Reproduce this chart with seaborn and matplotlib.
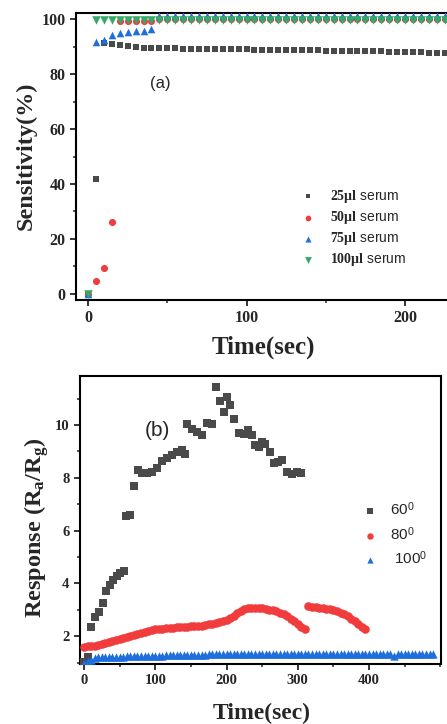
import numpy as np
import pandas as pd
import matplotlib
matplotlib.use("Agg")
import matplotlib.pyplot as plt
import seaborn as sns
from matplotlib.ticker import MultipleLocator, FixedLocator

# ---------------- data: panel (a) ----------------
t_a = [0, 5, 10, 15, 20, 25, 30, 35, 40, 45, 50, 55, 60, 65, 70, 75, 80, 85, 90, 95,
       100, 105, 110, 115, 120, 125, 130, 135, 140, 145, 150, 155, 160, 165, 170, 175,
       180, 185, 190, 195, 200, 205, 210, 215, 220, 225]
sens_25 = [0, 41.7, 91.2, 91.0, 90.6, 90.1, 89.9, 89.5, 89.4, 89.4, 89.3, 89.3, 89.2, 89.2,
           89.2, 89.1, 89.1, 89.1, 89.0, 89.0, 89.0, 88.9, 88.9, 88.8, 88.8, 88.8, 88.7,
           88.7, 88.7, 88.6, 88.5, 88.4, 88.4, 88.4, 88.3, 88.3, 88.3, 88.2, 88.0, 87.9,
           87.9, 87.9, 87.9, 87.8, 87.8, 87.8]
sens_50 = [0, 4.6, 9.4, 26.0, 99.3, 99.3, 99.3, 99.3, 99.3, 100.1, 100.1, 100.1, 100.1,
           100.1, 100.1, 100.1, 100.1, 100.1, 100.1, 100.1, 100.1, 100.1, 100.1, 100.1,
           100.1, 100.1, 100.1, 100.1, 100.1, 100.1, 100.1, 100.1, 100.1, 100.1, 100.1,
           100.1, 100.1, 100.1, 100.1, 100.1, 100.1, 100.1, 100.1, 100.1, 100.1, 100.1]
sens_75 = [0, 91.5, 92.5, 94.3, 94.9, 95.3, 95.5, 95.8, 96.5, 101.0, 101.0, 101.0, 101.0,
           101.0, 101.0, 101.0, 101.0, 101.0, 101.0, 101.0, 101.0, 101.0, 101.0, 101.0,
           101.0, 101.0, 101.0, 101.0, 101.0, 101.0, 101.0, 101.0, 101.0, 101.0, 101.0,
           101.0, 101.0, 101.0, 101.0, 101.0, 101.0, 101.0, 101.0, 101.0, 101.0, 101.0]
sens_100 = [0, 99.8, 99.8, 99.8, 99.8, 99.8, 99.8, 99.8, 99.8, 99.8, 99.8, 99.8, 99.8, 99.8,
            99.8, 99.8, 99.8, 99.8, 99.8, 99.8, 99.8, 99.8, 99.8, 99.8, 99.8, 99.8, 99.8,
            99.8, 99.8, 99.8, 99.8, 99.8, 99.8, 99.8, 99.8, 99.8, 99.8, 99.8, 99.8, 99.8,
            99.8, 99.8, 99.8, 99.8, 99.8, 99.8]
labels_a = [r"$\mathbf{25μl}$ serum", r"$\mathbf{50μl}$ serum",
            r"$\mathbf{75μl}$ serum", r"$\mathbf{100μl}$ serum"]

# ---------------- data: panel (b) ----------------
t_60 = [0, 5, 9.4, 15.5, 21, 26, 31, 36.6, 41, 46, 50.7, 56, 59, 65, 70.6, 76.3, 81, 88, 95,
        102, 109, 116, 123, 130.3, 137, 142, 145, 151.6, 158.6, 165.6, 172, 179, 185, 191,
        196.5, 200, 205.6, 211, 218, 224, 230, 235.6, 240, 245, 250, 254.5, 260.6, 266,
        272, 278, 285, 292, 299, 304]
r_60 = [1.02, 1.2, 2.35, 2.73, 2.92, 3.26, 3.72, 3.93, 4.12, 4.27, 4.4, 4.48, 6.55, 6.59,
        7.69, 8.3, 8.17, 8.2, 8.22, 8.36, 8.65, 8.77, 8.86, 8.99, 9.05, 8.9, 10.06, 9.87,
        9.75, 9.62, 10.09, 10.04, 11.43, 10.92, 10.5, 11.07, 10.76, 10.25, 9.71, 9.65,
        9.8, 9.62, 9.24, 9.18, 9.37, 9.28, 8.99, 8.55, 8.6, 8.67, 8.23, 8.14, 8.23, 8.19]

t_80 = [0, 5, 10, 15, 20, 25, 30, 35, 40, 45, 50, 55, 60, 65, 70, 75, 80, 85, 90, 95, 100,
        105, 110, 115, 120, 125, 130, 135, 140, 145, 150, 155, 160, 165, 170, 175, 180, 185,
        190, 195, 200, 205, 210, 215, 220, 225, 230, 235, 240, 245, 250, 255, 260, 265, 270,
        275, 280, 285, 290, 295, 300, 305, 310,
        315, 320, 325, 330, 335, 340, 345, 350, 355, 360, 365, 370, 375, 380, 385, 390, 395]
r_80 = [1.6, 1.62, 1.63, 1.65, 1.68, 1.71, 1.74, 1.78, 1.82, 1.86, 1.9, 1.94, 1.98, 2.02,
        2.06, 2.1, 2.14, 2.17, 2.2, 2.23, 2.26, 2.28, 2.29, 2.31, 2.32, 2.33, 2.34, 2.36,
        2.37, 2.37, 2.38, 2.38, 2.39, 2.4, 2.42, 2.45, 2.48, 2.51, 2.55, 2.59, 2.63, 2.7,
        2.78, 2.87, 2.95, 3.03, 3.09, 3.09, 3.08, 3.07, 3.06, 3.04, 3.01, 2.98, 2.94, 2.89,
        2.83, 2.76, 2.67, 2.57, 2.46, 2.37, 2.29,
        3.13, 3.11, 3.1, 3.09, 3.07, 3.05, 3.02, 2.99, 2.95, 2.9, 2.84, 2.76, 2.67, 2.57,
        2.47, 2.37, 2.28]

t_100 = [0, 5, 10, 15, 20, 25, 30, 35, 40, 45, 50, 55, 60, 65, 70, 75, 80, 85, 90, 95, 100,
         105, 110, 115, 120, 125, 130, 135, 140, 145, 150, 155, 160, 165, 170, 175, 180, 185,
         190, 195, 200, 205, 210, 215, 220, 225, 230, 235, 240, 245, 250, 255, 260, 265, 270,
         275, 280, 285, 290, 295, 300, 305, 310, 315, 320, 325, 330, 335, 340, 345, 350, 355,
         360, 365, 370, 375, 380, 385, 390, 395, 400, 405, 410, 415, 420, 425, 430, 435, 440,
         445, 450, 455, 460, 465, 470, 475, 480, 485, 490]
r_100 = [1.0, 1.05, 1.12, 1.17, 1.2, 1.2, 1.21, 1.21, 1.22, 1.22, 1.23, 1.23, 1.24, 1.24,
         1.25, 1.25, 1.25, 1.26, 1.26, 1.26, 1.27, 1.27, 1.27, 1.28, 1.28, 1.28, 1.28, 1.29,
         1.29, 1.29, 1.3, 1.3, 1.3, 1.3, 1.3, 1.31, 1.31, 1.31, 1.31, 1.31, 1.32, 1.32, 1.32,
         1.32, 1.32, 1.33, 1.33, 1.33, 1.33, 1.33, 1.33, 1.34, 1.34, 1.34, 1.34, 1.34, 1.34,
         1.34, 1.34, 1.34, 1.34, 1.34, 1.34, 1.34, 1.34, 1.34, 1.34, 1.34, 1.34, 1.34, 1.34,
         1.34, 1.34, 1.34, 1.34, 1.34, 1.34, 1.34, 1.34, 1.34, 1.34, 1.34, 1.34, 1.34, 1.34,
         1.34, 1.33, 1.27, 1.33, 1.34, 1.34, 1.34, 1.34, 1.34, 1.34, 1.34, 1.34, 1.34, 1.33]
labels_b = [r"60$^{\mathsf{0}}$", r"80$^{\mathsf{0}}$", r" 100$^{\mathsf{0}}$"]
xticks_b = [0, 100, 200, 300, 400]

# ---------------- style ----------------
sns.set_style("ticks")
plt.rcParams["font.family"] = ["Liberation Serif", "DejaVu Serif"]
plt.rcParams["mathtext.fontset"] = "custom"
plt.rcParams["mathtext.rm"] = "Liberation Serif"
plt.rcParams["mathtext.bf"] = "Liberation Serif:bold"
plt.rcParams["mathtext.sf"] = "Liberation Sans"
plt.rcParams["mathtext.it"] = "Liberation Serif:italic"

GRAY, RED, BLUE, GREEN = "#4a4a4a", "#f03c3c", "#1e6fdc", "#35aa68"

W, H = 447, 724
fig = plt.figure(figsize=(W / 100, H / 100), dpi=100)

def style_axes(ax, tick_fs):
    for sp in ax.spines.values():
        sp.set_linewidth(1.5)
        sp.set_color("black")
    ax.tick_params(which="major", direction="out", length=4.5, width=1.3,
                   labelsize=tick_fs, pad=3)
    ax.tick_params(which="minor", direction="out", length=2.5, width=1.1)
    for lab in ax.get_xticklabels() + ax.get_yticklabels():
        lab.set_fontweight("bold")

# ---------------- panel (a) ----------------
ax1 = fig.add_axes([76 / W, 1 - 300 / H, (W - 76) / W, 287 / H])
series_a = [(sens_25, GRAY, "s", 20), (sens_50, RED, "o", 26),
            (sens_75, BLUE, "^", 30), (sens_100, GREEN, "v", 38)]
for (vals, col, mk, sz), lab in zip(series_a, labels_a):
    sns.scatterplot(x=t_a, y=vals, color=col, marker=mk, s=sz, linewidth=0,
                    ax=ax1, label=lab, zorder=3)
ax1.set_xlim(-7.6, 226.5)
ax1.set_ylim(-2.2, 102.2)
ax1.xaxis.set_major_locator(MultipleLocator(100))
ax1.xaxis.set_minor_locator(MultipleLocator(50))
ax1.yaxis.set_major_locator(MultipleLocator(20))
ax1.yaxis.set_minor_locator(MultipleLocator(10))
ax1.spines["right"].set_visible(False)
style_axes(ax1, 11.5)
ax1.set_xlabel("Time(sec)", fontsize=18, fontweight="bold")
ax1.set_ylabel("Sensitivity(%)", fontsize=17.5, fontweight="bold")
ax1.xaxis.set_label_coords((263 - 76) / (W - 76), (300 - 347) / 287)
ax1.xaxis.label.set_verticalalignment("center")
ax1.yaxis.set_label_coords((26 - 76) / (W - 76), (300 - 156) / 287)
ax1.yaxis.label.set_verticalalignment("center")
ax1.text(45.4, 76.5, "(a)", fontsize=12, family="Liberation Sans",
         ha="center", va="center")
h, l = ax1.get_legend_handles_labels()
ax1.legend(h, l, loc="upper left", bbox_to_anchor=(301 / W, 1 - 188 / H),
           bbox_transform=fig.transFigure, frameon=False,
           prop={"family": "Liberation Sans", "size": 10},
           handlelength=1.0, handletextpad=1.1, labelspacing=0.3,
           borderpad=0, borderaxespad=0, markerscale=0.8)

# ---------------- panel (b) ----------------
ax2 = fig.add_axes([80 / W, 1 - 664 / H, 361 / W, 288 / H])
series_b = [(t_60, r_60, GRAY, "s", 26), (t_80, r_80, RED, "o", 38),
            (t_100, r_100, BLUE, "^", 36)]
for (tt, vals, col, mk, sz), lab in zip(series_b, labels_b):
    sns.scatterplot(x=tt, y=vals, color=col, marker=mk, s=sz, linewidth=0,
                    ax=ax2, label=lab, zorder=3)
ax2.set_xlim(-5.6, 501)
ax2.set_ylim(0.95, 11.86)
ax2.xaxis.set_major_locator(FixedLocator(xticks_b))
ax2.xaxis.set_minor_locator(MultipleLocator(50))
ax2.yaxis.set_major_locator(MultipleLocator(2))
ax2.yaxis.set_minor_locator(MultipleLocator(1))
style_axes(ax2, 10.5)
ax2.set_xlabel("Time(sec)", fontsize=17, fontweight="bold")
ax2.set_ylabel(r"Response (R$_\mathbf{a}$/R$_\mathbf{g}$)", fontsize=17.5,
               fontweight="bold")
ax2.xaxis.set_label_coords((262 - 80) / 361, (664 - 713) / 288)
ax2.xaxis.label.set_verticalalignment("center")
ax2.yaxis.set_label_coords((37 - 80) / 361, (664 - 528) / 288)
ax2.yaxis.label.set_verticalalignment("center")
ax2.text(102.5, 9.8, "(b)", fontsize=15, family="Liberation Sans",
         ha="center", va="center")
h, l = ax2.get_legend_handles_labels()
ax2.legend(h, l, loc="upper left", bbox_to_anchor=(362 / W, 1 - 500 / H),
           bbox_transform=fig.transFigure, frameon=False,
           prop={"family": "Liberation Sans", "size": 11},
           handlelength=1.0, handletextpad=0.8, labelspacing=0.45,
           borderpad=0, borderaxespad=0, markerscale=0.75)

fig.savefig("out.png", dpi=100)
